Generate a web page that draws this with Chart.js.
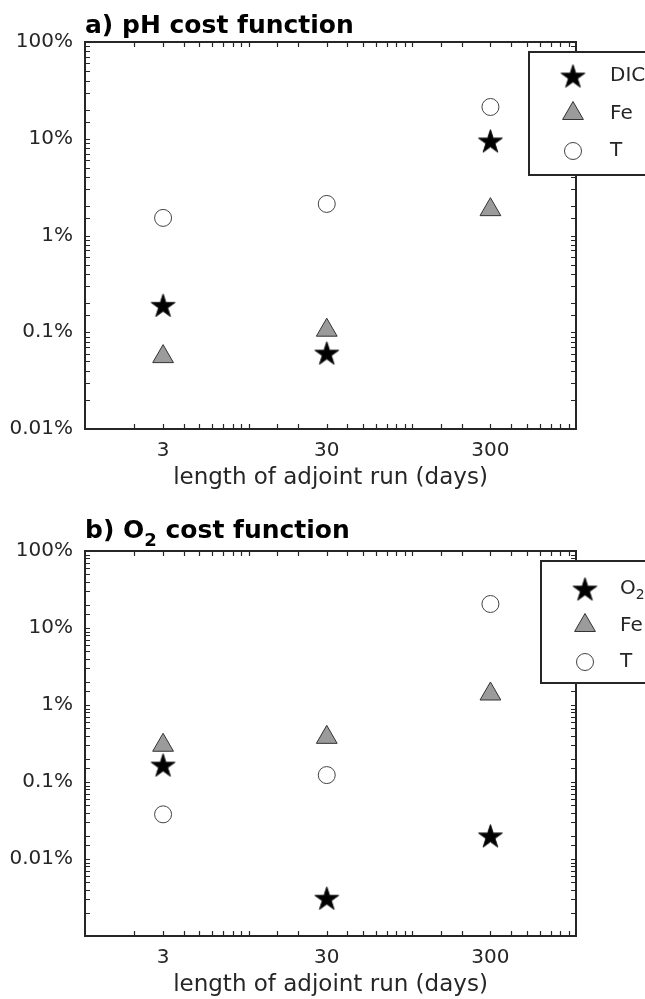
<!DOCTYPE html>
<html>
<head>
<meta charset="utf-8">
<script src="https://cdn.jsdelivr.net/npm/chart.js@4/dist/chart.umd.min.js"></script>
<style>
  html, body { margin: 0; padding: 0; background: #ffffff; overflow: hidden; }
  .wrap { position: absolute; left: 0; width: 645px; }
  canvas { display: block; }
</style>
</head>
<body>
<div class="wrap" style="top:0;height:500px;"><canvas id="chartA" width="645" height="500"></canvas></div>
<div class="wrap" style="top:500px;height:499px;"><canvas id="chartB" width="645" height="499"></canvas></div>
<script>
// ---------------- data ----------------
const days = [3, 30, 300];
const xTickValues = [3, 30, 300];
const xTickLabels = ['3', '30', '300'];

// a) pH cost function (percent)
const phDIC = [0.19, 0.061, 9.5];
const phFe  = [0.056, 0.105, 1.85];
const phT   = [1.52, 2.12, 21.3];

// b) O2 cost function (percent)
const o2O2 = [0.166, 0.0031, 0.020];
const o2Fe = [0.30, 0.38, 1.39];
const o2T  = [0.038, 0.123, 20.5];

const yTickValues = [0.01, 0.1, 1, 10, 100];
const yTickLabels = ['0.01%', '0.1%', '1%', '10%', '100%'];

const FONT = "'DejaVu Sans', 'Liberation Sans', sans-serif";
const AXIS_COLOR = '#262626';

// ---------------- marker styles ----------------
function makeStar(R) {
  const size = Math.ceil(R * 2 + 4);
  const c = document.createElement('canvas');
  c.width = size; c.height = size;
  const g = c.getContext('2d');
  const cx = size / 2, cy = size / 2 + R * 0.09;
  const r = R * 0.382;
  g.beginPath();
  for (let i = 0; i < 10; i++) {
    const rad = (i % 2 === 0) ? R : r;
    const ang = -Math.PI / 2 + i * Math.PI / 5;
    const px = cx + rad * Math.cos(ang), py = cy + rad * Math.sin(ang);
    if (i === 0) g.moveTo(px, py); else g.lineTo(px, py);
  }
  g.closePath();
  g.fillStyle = '#000000';
  g.fill();
  g.lineWidth = 1;
  g.strokeStyle = '#111111';
  g.stroke();
  return c;
}
const starImg = makeStar(12.5);

const styleStar = { pointStyle: starImg, pointRadius: 12, backgroundColor: '#000', borderColor: '#000', borderWidth: 0 };
const styleTri = { pointStyle: 'triangle', pointRadius: 12, backgroundColor: '#9b9b9b', borderColor: '#333333', borderWidth: 1 };
const styleCirc = { pointStyle: 'circle', pointRadius: 8.5, backgroundColor: '#ffffff', borderColor: '#444444', borderWidth: 1 };

function drawMarker(ctx, kind, x, y) {
  ctx.save();
  if (kind === 'star') {
    ctx.drawImage(starImg, x - starImg.width / 2, y - starImg.height / 2);
  } else if (kind === 'tri') {
    const r = styleTri.pointRadius;
    ctx.beginPath();
    let rad = 0;
    ctx.moveTo(x + Math.sin(rad) * r, y - Math.cos(rad) * r);
    rad += 2 * Math.PI / 3; ctx.lineTo(x + Math.sin(rad) * r, y - Math.cos(rad) * r);
    rad += 2 * Math.PI / 3; ctx.lineTo(x + Math.sin(rad) * r, y - Math.cos(rad) * r);
    ctx.closePath();
    ctx.fillStyle = styleTri.backgroundColor; ctx.fill();
    ctx.lineWidth = 1; ctx.strokeStyle = styleTri.borderColor; ctx.stroke();
  } else {
    ctx.beginPath();
    ctx.arc(x, y, styleCirc.pointRadius, 0, Math.PI * 2);
    ctx.fillStyle = '#ffffff'; ctx.fill();
    ctx.lineWidth = 1; ctx.strokeStyle = styleCirc.borderColor; ctx.stroke();
  }
  ctx.restore();
}

// draws text pieces: [{t, sub}] starting at x, baseline y
function drawRich(ctx, pieces, x, y, size, weight) {
  let cx = x;
  pieces.forEach(p => {
    const s = p.sub ? Math.round(size * 0.72) : size;
    ctx.font = weight + ' ' + s + 'px ' + FONT;
    ctx.fillText(p.t, cx, p.sub ? y + size * 0.3 : y);
    cx += ctx.measureText(p.t).width;
  });
}

// ---------------- plugin: frame, ticks, title, legend ----------------
const decorPlugin = {
  id: 'decor',
  afterDraw(chart, args, opts) {
    const { ctx, chartArea: a, scales } = chart;
    const xs = scales.x, ys = scales.y;
    ctx.save();
    // tick marks (inward, all sides)
    ctx.strokeStyle = AXIS_COLOR;
    ctx.lineWidth = 1.2;
    const L = 5;
    ctx.beginPath();
    xs.ticks.forEach(t => {
      if (t.value <= xs.min || t.value >= xs.max) return;
      const px = Math.round(xs.getPixelForValue(t.value)) + 0.5;
      ctx.moveTo(px, a.bottom); ctx.lineTo(px, a.bottom - L);
      ctx.moveTo(px, a.top); ctx.lineTo(px, a.top + L);
    });
    ys.ticks.forEach(t => {
      if (t.value <= ys.min || t.value >= ys.max) return;
      const py = Math.round(ys.getPixelForValue(t.value)) + 0.5;
      ctx.moveTo(a.left, py); ctx.lineTo(a.left + L, py);
      ctx.moveTo(a.right, py); ctx.lineTo(a.right - L, py);
    });
    ctx.stroke();
    // frame
    ctx.lineWidth = 2;
    ctx.strokeRect(a.left, a.top, a.right - a.left, a.bottom - a.top);

    // title
    ctx.fillStyle = '#000000';
    ctx.textBaseline = 'alphabetic';
    ctx.textAlign = 'left';
    drawRich(ctx, opts.title, a.left, a.top - opts.titleGap, 25, 'bold');

    // legend
    const lg = opts.legend;
    ctx.fillStyle = '#ffffff';
    ctx.fillRect(lg.left, a.top + lg.top, 200, lg.height);
    ctx.lineWidth = 2;
    ctx.strokeStyle = AXIS_COLOR;
    ctx.strokeRect(lg.left, a.top + lg.top, 200, lg.height);
    lg.items.forEach((it, i) => {
      const yy = a.top + lg.firstRow + i * lg.rowGap;
      drawMarker(ctx, it.kind, lg.markerX, yy);
      ctx.fillStyle = AXIS_COLOR;
      ctx.textBaseline = 'middle';
      drawRich(ctx, it.label, lg.textX, yy, 20, 'normal');
    });
    ctx.restore();
  }
};

function buildChart(canvasId, series, yMin, cfg) {
  const datasets = series.map(s => Object.assign({
    label: s.name,
    data: days.map((d, i) => ({ x: d, y: s.values[i] })),
    showLine: false,
    clip: false
  }, s.style));

  return new Chart(document.getElementById(canvasId), {
    type: 'scatter',
    data: { datasets },
    plugins: [decorPlugin],
    options: {
      responsive: false,
      animation: false,
      devicePixelRatio: 1,
      layout: { padding: { top: cfg.top, right: 69, left: 0, bottom: 0 } },
      plugins: {
        legend: { display: false },
        tooltip: { enabled: false },
        decor: cfg.decor
      },
      scales: {
        x: {
          type: 'logarithmic',
          min: 1, max: 1000,
          grid: { display: false, drawTicks: false },
          border: { display: false },
          afterFit: (sc) => { sc.height = cfg.xHeight; },
          ticks: {
            autoSkip: false, maxRotation: 0, minRotation: 0,
            padding: 10,
            color: AXIS_COLOR,
            font: { family: FONT, size: 20 },
            callback: (v) => {
              const i = xTickValues.findIndex(tv => Math.abs(v / tv - 1) < 1e-6);
              return i >= 0 ? xTickLabels[i] : '';
            }
          },
          title: {
            display: true,
            text: 'length of adjoint run (days)',
            color: AXIS_COLOR,
            font: { family: FONT, size: 23 },
            padding: { top: 0, bottom: cfg.titlePad }
          }
        },
        y: {
          type: 'logarithmic',
          min: yMin, max: 100,
          grid: { display: false, drawTicks: false },
          border: { display: false },
          afterFit: (sc) => { sc.width = 85; },
          ticks: {
            autoSkip: false,
            padding: 12,
            color: AXIS_COLOR,
            font: { family: FONT, size: 20 },
            callback: (v) => {
              const i = yTickValues.findIndex(tv => Math.abs(v / tv - 1) < 1e-6);
              return i >= 0 ? yTickLabels[i] : '';
            }
          }
        }
      }
    }
  });
}

buildChart('chartA', [
  { name: 'DIC', values: phDIC, style: styleStar },
  { name: 'Fe', values: phFe, style: styleTri },
  { name: 'T', values: phT, style: styleCirc }
], 0.01, {
  top: 42, xHeight: 71, titlePad: 8,
  decor: {
    title: [{ t: 'a) pH cost function' }],
    titleGap: 9,
    legend: {
      left: 529, top: 10, height: 123, markerX: 573, textX: 610,
      firstRow: 34, rowGap: 37.5,
      items: [
        { kind: 'star', label: [{ t: 'DIC' }] },
        { kind: 'tri', label: [{ t: 'Fe' }] },
        { kind: 'circ', label: [{ t: 'T' }] }
      ]
    }
  }
});

buildChart('chartB', [
  { name: 'O2', values: o2O2, style: styleStar },
  { name: 'Fe', values: o2Fe, style: styleTri },
  { name: 'T', values: o2T, style: styleCirc }
], 0.001, {
  top: 51, xHeight: 63, titlePad: 0,
  decor: {
    title: [{ t: 'b) O' }, { t: '2', sub: true }, { t: ' cost function' }],
    titleGap: 13,
    legend: {
      left: 541, top: 10, height: 122, markerX: 585, textX: 620,
      firstRow: 38, rowGap: 36.5,
      items: [
        { kind: 'star', label: [{ t: 'O' }, { t: '2', sub: true }] },
        { kind: 'tri', label: [{ t: 'Fe' }] },
        { kind: 'circ', label: [{ t: 'T' }] }
      ]
    }
  }
});
</script>
</body>
</html>
